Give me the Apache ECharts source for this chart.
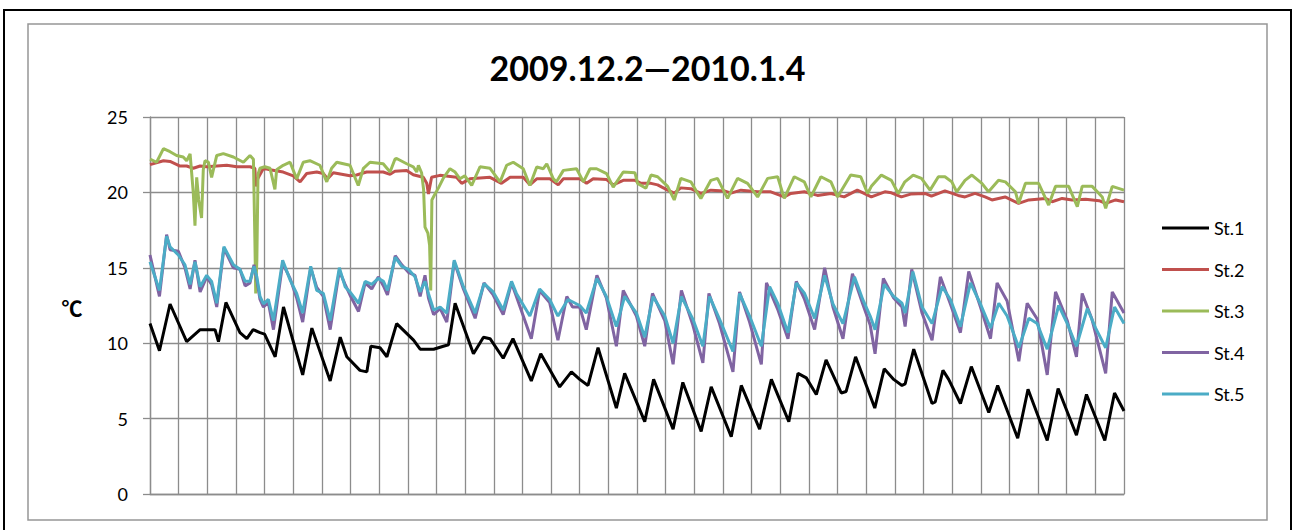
<!DOCTYPE html>
<html><head><meta charset="utf-8">
<script src="https://cdn.jsdelivr.net/npm/echarts@6/dist/echarts.min.js"></script>
<style>html,body{margin:0;padding:0;background:#fff}#c{width:1295px;height:530px}</style>
</head><body><div id="c"></div>
<script>
// Values: [day since 2009-12-02 00:00, temperature °C]
const titleText = '2009.12.2―2010.1.4';
const seriesNames = ['St.1', 'St.2', 'St.3', 'St.4', 'St.5'];
const yTicks = [0, 5, 10, 15, 20, 25];
const dayCount = 34;

const st1 = [[0,11.3],[0.33,9.5],[0.7,12.6],[1.28,10.1],[1.75,10.9],[2.27,10.9],[2.39,10.1],[2.65,12.7],[3.14,10.7],[3.38,10.3],[3.6,10.9],[3.84,10.7],[4.0,10.6],[4.37,9.1],[4.66,12.4],[5.33,7.9],[5.65,11.0],[6.29,7.5],[6.64,10.4],[6.87,9.1],[7.33,8.2],[7.57,8.1],[7.71,9.8],[8.03,9.7],[8.27,9.1],[8.61,11.3],[9.2,10.2],[9.43,9.6],[9.9,9.6],[10.24,9.8],[10.42,9.9],[10.65,12.65],[11.29,9.3],[11.64,10.4],[11.87,10.3],[12.33,9.0],[12.67,10.3],[13.31,7.5],[13.64,9.3],[14.3,7.1],[14.71,8.1],[15.0,7.6],[15.29,7.2],[15.64,9.7],[16.28,5.7],[16.57,8.0],[17.27,4.8],[17.58,7.6],[18.26,4.3],[18.6,7.4],[19.24,4.15],[19.59,7.1],[20.29,3.8],[20.64,7.2],[21.28,4.3],[21.69,7.6],[22.3,4.8],[22.62,8.0],[22.91,7.7],[23.26,6.6],[23.6,8.9],[24.13,6.7],[24.3,6.8],[24.63,9.1],[25.3,5.7],[25.63,8.3],[25.96,7.6],[26.25,7.2],[26.36,7.3],[26.66,9.6],[27.3,6.0],[27.41,6.1],[27.68,8.2],[27.88,7.6],[28.29,6.0],[28.67,8.45],[29.28,5.4],[29.59,7.2],[30.29,3.7],[30.65,6.95],[31.32,3.55],[31.7,7.0],[32.34,3.9],[32.69,6.6],[33.33,3.55],[33.67,6.7],[34.0,5.5]];

const st2 = [[0,21.84],[0.47,22.1],[0.7,22.05],[1.05,21.75],[1.28,21.75],[1.51,21.6],[1.75,21.75],[1.98,21.7],[2.33,21.75],[2.68,21.8],[3.03,21.7],[3.49,21.7],[3.66,21.6],[3.7,20.4],[3.76,20.9],[3.96,21.6],[4.19,21.5],[4.65,21.35],[5.0,21.1],[5.24,20.7],[5.47,21.25],[5.82,21.35],[6.05,21.25],[6.2,20.9],[6.4,21.3],[6.98,21.1],[7.21,21.15],[7.56,21.35],[8.14,21.35],[8.38,21.2],[8.55,21.4],[8.96,21.46],[9.19,21.17],[9.54,21.0],[9.66,20.6],[9.72,19.9],[9.83,21.0],[10.12,21.13],[10.7,21.0],[10.88,20.6],[11.17,20.9],[11.87,21.0],[12.27,20.6],[12.57,21.0],[13.03,21.0],[13.26,20.5],[13.5,20.9],[13.96,20.9],[14.25,20.5],[14.43,20.9],[15.01,20.9],[15.24,20.6],[15.47,20.9],[15.94,20.85],[16.17,20.5],[16.52,20.8],[16.93,20.8],[17.14,20.6],[17.49,20.6],[17.72,20.5],[18.07,20.15],[18.3,19.95],[18.53,20.3],[18.88,20.25],[19.23,19.93],[19.58,20.15],[20.05,20.1],[20.28,19.95],[20.63,20.15],[21.21,20.04],[21.67,20.04],[22.14,19.7],[22.37,19.93],[22.84,20.04],[23.3,19.8],[23.77,19.93],[24.23,19.7],[24.69,20.15],[25.18,19.7],[25.65,20.04],[25.88,19.97],[26.23,19.7],[26.58,19.9],[27.05,19.93],[27.28,19.75],[27.75,20.1],[28.21,19.8],[28.45,19.7],[28.8,19.93],[29.15,19.7],[29.39,19.5],[29.85,19.7],[30.32,19.27],[30.68,19.5],[31.26,19.6],[31.49,19.38],[31.84,19.6],[32.19,19.5],[32.66,19.55],[33.13,19.45],[33.36,19.27],[33.71,19.5],[34.0,19.38]];

const st3 = [[0,22.2],[0.23,22.0],[0.47,22.9],[0.7,22.7],[0.93,22.45],[1.16,22.35],[1.28,22.1],[1.4,22.55],[1.51,20.0],[1.57,17.8],[1.63,21.0],[1.7,19.5],[1.8,18.3],[1.86,21.5],[1.92,22.1],[2.04,22.0],[2.15,21.0],[2.33,22.45],[2.56,22.57],[2.91,22.35],[3.26,22.0],[3.49,22.45],[3.61,22.2],[3.66,17.0],[3.69,13.3],[3.73,15.5],[3.77,21.2],[3.84,21.6],[4.01,21.7],[4.19,21.6],[4.36,20.2],[4.42,21.5],[4.65,21.8],[4.89,22.0],[5.12,20.9],[5.35,22.0],[5.58,22.1],[5.93,21.8],[6.17,20.7],[6.34,21.6],[6.52,22.0],[6.98,21.8],[7.27,20.46],[7.45,21.6],[7.68,22.0],[8.14,21.9],[8.38,21.35],[8.55,22.2],[8.61,22.25],[8.96,21.9],[9.19,21.7],[9.31,21.35],[9.37,21.8],[9.48,21.3],[9.55,20.2],[9.6,17.7],[9.7,17.3],[9.76,16.5],[9.8,13.5],[9.84,19.5],[9.95,19.9],[10.07,20.3],[10.24,20.95],[10.47,21.57],[10.65,21.35],[10.82,20.9],[10.99,21.1],[11.23,20.46],[11.52,21.7],[11.87,21.6],[12.22,20.7],[12.45,21.8],[12.68,22.0],[13.03,21.57],[13.26,20.46],[13.5,21.68],[13.73,21.57],[13.85,21.9],[14.08,20.9],[14.19,20.7],[14.43,21.46],[14.89,21.57],[15.13,20.7],[15.36,21.57],[15.59,21.57],[15.94,21.24],[16.17,20.35],[16.52,21.35],[16.93,21.3],[17.02,20.6],[17.31,20.27],[17.49,21.15],[17.72,21.04],[18.07,20.4],[18.3,19.5],[18.53,20.93],[18.88,20.7],[19.12,19.93],[19.23,19.6],[19.58,20.8],[19.81,20.93],[20.16,19.6],[20.51,20.93],[20.86,20.6],[21.21,19.7],[21.56,20.93],[21.91,21.04],[22.14,19.6],[22.49,21.04],[22.84,20.7],[23.07,19.7],[23.42,21.04],[23.77,20.7],[24.0,19.7],[24.46,21.15],[24.81,21.04],[25.05,19.93],[25.18,20.4],[25.53,21.15],[25.88,20.8],[26.12,19.93],[26.35,20.7],[26.64,21.15],[26.93,20.93],[27.23,20.15],[27.52,21.04],[27.75,21.04],[27.99,20.7],[28.16,20.04],[28.45,20.8],[28.69,21.15],[29.04,20.6],[29.27,20.04],[29.62,20.8],[29.86,20.7],[30.21,20.04],[30.32,19.27],[30.56,20.6],[31.02,20.6],[31.37,19.16],[31.61,20.4],[32.07,20.4],[32.37,19.05],[32.54,20.4],[32.89,20.4],[33.24,19.7],[33.36,18.94],[33.59,20.4],[34.0,20.15]];

const st4 = [[0,15.85],[0.33,13.1],[0.58,17.2],[0.7,16.2],[0.99,16.1],[1.22,15.0],[1.4,13.6],[1.57,15.5],[1.75,13.4],[1.98,14.4],[2.15,13.9],[2.33,12.4],[2.58,16.3],[2.91,15.0],[3.14,14.9],[3.32,13.8],[3.49,14.0],[3.63,15.2],[3.73,14.2],[3.84,12.9],[3.96,12.4],[4.13,12.7],[4.31,10.9],[4.63,15.3],[4.89,14.3],[5.12,13.0],[5.33,11.4],[5.61,15.0],[5.82,13.7],[6.05,13.1],[6.29,10.9],[6.61,14.8],[6.81,13.9],[6.98,13.2],[7.28,12.1],[7.51,14.0],[7.74,13.6],[7.97,14.4],[8.15,13.8],[8.29,13.2],[8.56,15.8],[8.79,15.2],[9.02,14.7],[9.25,14.5],[9.43,13.1],[9.6,14.5],[9.72,13.0],[9.9,11.9],[10.13,12.3],[10.36,11.4],[10.62,15.4],[10.94,13.6],[11.35,11.65],[11.66,14.0],[11.98,13.2],[12.33,11.9],[12.62,14.0],[12.79,13.1],[13.31,10.3],[13.6,13.5],[13.95,12.7],[14.24,10.2],[14.55,13.1],[14.75,12.4],[15.0,12.4],[15.23,10.9],[15.6,14.5],[15.93,13.0],[16.28,9.8],[16.52,13.5],[16.98,11.8],[17.27,9.8],[17.54,13.3],[17.97,11.5],[18.26,8.6],[18.55,13.5],[18.95,11.2],[19.3,8.7],[19.51,13.3],[19.88,11.3],[20.35,8.1],[20.58,13.4],[20.93,11.4],[21.34,8.6],[21.52,14.0],[21.92,12.2],[22.27,10.3],[22.56,14.1],[22.85,12.9],[23.2,10.9],[23.55,15.0],[23.84,12.4],[24.19,10.3],[24.52,14.6],[24.88,12.6],[25.14,11.2],[25.31,9.3],[25.6,14.3],[25.96,13.0],[26.25,12.4],[26.36,11.1],[26.59,14.9],[26.95,12.0],[27.3,10.2],[27.59,14.4],[27.94,12.6],[28.29,10.7],[28.58,14.75],[28.99,12.4],[29.34,10.3],[29.57,14.0],[29.92,12.8],[30.33,8.8],[30.62,12.65],[30.97,11.6],[31.32,7.9],[31.61,13.4],[32.02,11.5],[32.34,9.1],[32.54,13.3],[32.88,11.6],[33.36,8.0],[33.59,13.4],[34.0,12.0]];

const st5 = [[0,15.4],[0.33,13.5],[0.58,17.1],[0.7,16.4],[0.99,15.85],[1.22,15.2],[1.4,13.9],[1.57,15.4],[1.75,13.75],[1.98,14.5],[2.15,14.1],[2.33,12.65],[2.58,16.4],[2.91,15.2],[3.14,14.9],[3.32,14.1],[3.49,14.1],[3.63,15.1],[3.73,14.4],[3.84,13.1],[3.96,12.6],[4.13,12.9],[4.31,11.5],[4.63,15.5],[4.89,14.2],[5.12,13.3],[5.33,12.0],[5.61,15.1],[5.82,13.5],[6.05,13.3],[6.29,11.5],[6.61,15.0],[6.81,13.75],[6.98,13.4],[7.28,12.65],[7.51,14.1],[7.74,13.9],[7.97,14.3],[8.15,14.1],[8.29,13.5],[8.56,15.7],[8.79,15.1],[9.02,14.9],[9.25,14.4],[9.43,13.4],[9.6,14.1],[9.72,13.3],[9.9,12.2],[10.13,12.4],[10.36,12.0],[10.62,15.5],[10.94,13.75],[11.35,12.0],[11.66,13.95],[11.98,13.4],[12.33,12.2],[12.62,14.1],[12.79,13.3],[13.26,11.8],[13.6,13.6],[13.95,12.9],[14.24,11.8],[14.59,12.9],[15.0,12.5],[15.23,12.0],[15.6,14.3],[15.93,13.1],[16.28,11.1],[16.57,13.1],[16.98,12.0],[17.27,10.4],[17.56,13.1],[17.97,11.8],[18.26,10.0],[18.55,13.1],[18.95,11.6],[19.3,9.8],[19.53,13.1],[19.88,11.6],[20.35,9.45],[20.58,13.3],[20.93,11.8],[21.34,9.8],[21.63,13.75],[21.92,12.6],[22.27,10.7],[22.56,14.0],[22.85,13.3],[23.2,11.65],[23.55,14.5],[23.84,12.6],[24.19,11.3],[24.59,14.4],[24.88,12.9],[25.14,11.8],[25.31,10.9],[25.63,13.9],[25.96,13.1],[26.25,12.65],[26.36,12.0],[26.63,14.75],[26.95,12.4],[27.3,11.3],[27.65,13.75],[27.94,12.9],[28.29,11.1],[28.64,14.0],[28.99,12.6],[29.34,11.0],[29.63,12.65],[29.92,11.8],[30.33,9.7],[30.68,11.65],[30.97,11.3],[31.32,9.6],[31.72,12.5],[32.02,11.3],[32.34,9.8],[32.72,12.3],[33.01,11.0],[33.36,9.7],[33.67,12.4],[34.0,11.3]];

const seriesData = [st1, st2, st3, st4, st5];
const colors = ['#000000', '#C0504D', '#9BBB59', '#8064A2', '#4BACC6'];
const gridColor = '#8c8c8c';
const FONT = 'Lato, "Liberation Sans", sans-serif';

const chart = echarts.init(document.getElementById('c'), null, {renderer: 'svg'});
chart.setOption({
  backgroundColor: '#fff',
  animation: false,
  color: colors,
  title: {
    text: titleText, left: 'center', top: 45,
    textStyle: {fontFamily: 'Lato, "Noto Sans CJK JP", sans-serif', fontSize: 34, fontWeight: 'bold', color: '#000'}
  },
  legend: {
    data: seriesNames, orient: 'vertical', left: 1157, top: 213,
    icon: 'rect', itemWidth: 47, itemHeight: 3, itemGap: 21.5,
    textStyle: {fontFamily: FONT, fontSize: 18, color: '#000', lineHeight: 20}
  },
  grid: {left: 150, right: 171, top: 117, bottom: 36, containLabel: false},
  xAxis: {
    type: 'value', min: 0, max: dayCount, interval: 1,
    axisLine: {show: true, lineStyle: {color: gridColor, width: 1.3}},
    axisTick: {show: false}, axisLabel: {show: false},
    splitLine: {show: true, lineStyle: {color: gridColor, width: 1.3}}
  },
  yAxis: {
    type: 'value', min: yTicks[0], max: yTicks[yTicks.length - 1], interval: 5,
    axisLine: {show: true, lineStyle: {color: gridColor, width: 1.3}},
    axisTick: {show: true, length: 7, lineStyle: {color: gridColor, width: 1.3}},
    axisLabel: {margin: 22, fontFamily: FONT, fontSize: 18, color: '#000'},
    splitLine: {show: true, lineStyle: {color: gridColor, width: 1.3}}
  },
  graphic: [
    {type: 'rect', shape: {x: 4, y: 10, width: 1287, height: 540}, style: {fill: 'none', stroke: '#000', lineWidth: 2}, silent: true},
    {type: 'rect', shape: {x: 28, y: 24, width: 1239, height: 496}, style: {fill: 'none', stroke: '#969696', lineWidth: 1.5}, silent: true},
    {type: 'text', x: 72, y: 307, style: {text: '℃', fontSize: 21, fontWeight: 'bold', fontFamily: '"Noto Sans CJK JP", sans-serif', fill: '#000', align: 'center', verticalAlign: 'middle'}, silent: true}
  ],
  series: seriesNames.map((n, i) => ({
    name: n, type: 'line', data: seriesData[i], symbol: 'none', showSymbol: false,
    lineStyle: {color: colors[i], width: 3}, itemStyle: {color: colors[i]}
  }))
});
</script></body></html>
